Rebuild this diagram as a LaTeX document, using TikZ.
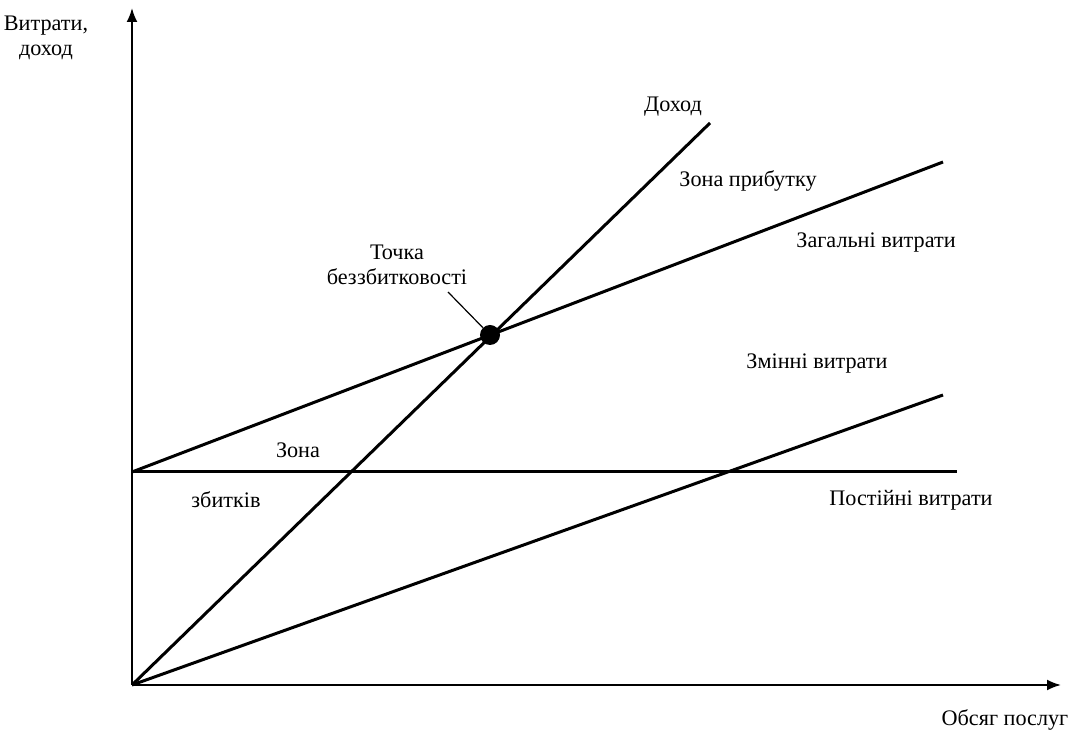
\documentclass[tikz,border=0pt]{standalone}
\usepackage{fontspec}
\setmainfont{Liberation Serif}
\usetikzlibrary{arrows.meta}
\tikzset{
    axis/.style = {
        draw,
        line width=1pt,
        -{Latex[length=7pt,width=5.5pt]},
        },
    graph line/.style = {
        draw,
        line width=1.5pt,
        },
    label text/.style = {
        font=\fontsize{11.1}{12.3}\selectfont,
        inner sep=0pt,
        },
    point/.style = {
        circle,
        fill=black,
        minimum size=10pt,
        inner sep=0pt,
        },
}
\begin{document}
\begin{tikzpicture}[x=0.5pt,y=-0.5pt]
            \useasboundingbox (0,0) rectangle (1076,731);
            % axes
            \coordinate (O) at (132,685);
            \coordinate (ytop) at (132,8);
            \coordinate (xend) at (1061,685);
            \draw[axis] (O) -- (ytop);
            \draw[axis] (O) -- (xend);

            % lines
            \coordinate (F) at (132,472);
            \coordinate (dend) at (710,123);
            \coordinate (zend) at (943,162);
            \coordinate (vend) at (943,395);
            \coordinate (fend) at (957,472);
            \path[graph line] (O) -- (dend);
            \path[graph line] (F) -- (zend);
            \path[graph line] (O) -- (vend);
            \path[graph line] (F) -- (fend);

            % break-even point
            \node[point] (bep) at (490,335) {};
            \coordinate (lead) at (448,292);
            \draw[line width=0.6pt] (lead) -- (bep);

            % labels
            \node[label text, align=center] (ylab) at (46,38) {Витрати,\\доход};
            \node[label text] (xlab) at (1005,720) {Обсяг послуг};
            \node[label text] (dohod) at (673,107) {Доход};
            \node[label text] (profit) at (748,181) {Зона прибутку};
            \node[label text] (total) at (876,243) {Загальні витрати};
            \node[label text, align=center] (beplab) at (397,265) {Точка\\беззбитковості};
            \node[label text] (var) at (817,364) {Змінні витрати};
            \node[label text] (loss1) at (298,450) {Зона};
            \node[label text] (loss2) at (226,500) {збитків};
            \node[label text] (fixed) at (911,500) {Постійні витрати};
        \end{tikzpicture}
\end{document}
